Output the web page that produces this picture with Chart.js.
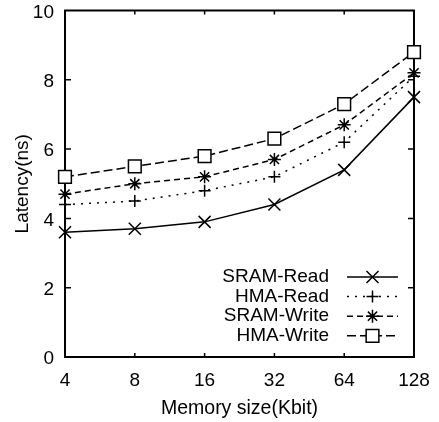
<!DOCTYPE html>
<html>
<head>
<meta charset="utf-8">
<title>Latency vs memory size</title>
<script src="https://cdn.jsdelivr.net/npm/chart.js@4.4.1/dist/chart.umd.min.js"></script>
<style>
  html, body { margin: 0; padding: 0; background: #fff; }
  #myChart { display: block; }
</style>
</head>
<body>
<canvas id="myChart" width="439" height="422"></canvas>
<script>
let sizes = ['4', '8', '16', '32', '64', '128'];
let seriesNames = ['SRAM-Read', 'HMA-Read', 'SRAM-Write', 'HMA-Write'];
let sramRead = [3.6, 3.7, 3.9, 4.4, 5.4, 7.5];
let hmaRead = [4.4, 4.5, 4.8, 5.2, 6.2, 8.1];
let sramWrite = [4.7, 5.0, 5.2, 5.7, 6.7, 8.2];
let hmaWrite = [5.2, 5.5, 5.8, 6.3, 7.3, 8.8];
let yTicks = [0, 2, 4, 6, 8, 10];

// line look per series (gnuplot style)
let dashes = [[], [2, 6], [6, 4], [9, 4]];
let markers = ['crossRot', 'cross', 'star', 'rect'];
let markerSizes = [8.5, 6, 6.5, 9];

const fontFamily = '"Liberation Sans", Arial, Helvetica, sans-serif';
const font19 = { family: fontFamily, size: 19, lineHeight: 1.2 };

// border box + inward ticks on all four sides
const framePlugin = {
  id: 'frame',
  beforeDatasetsDraw(chart) {
    const { ctx, chartArea: a, scales: { x, y } } = chart;
    ctx.save();
    ctx.strokeStyle = '#000';
    ctx.lineWidth = 2;
    ctx.strokeRect(a.left, a.top, a.right - a.left, a.bottom - a.top);
    ctx.lineWidth = 1.5;
    ctx.beginPath();
    yTicks.slice(1, -1).forEach(v => {
      const py = y.getPixelForValue(v);
      ctx.moveTo(a.left, py); ctx.lineTo(a.left + 6, py);
      ctx.moveTo(a.right, py); ctx.lineTo(a.right - 6, py);
    });
    sizes.slice(1, -1).forEach((s, i) => {
      const px = x.getPixelForValue(i + 1);
      ctx.moveTo(px, a.bottom); ctx.lineTo(px, a.bottom - 4);
      ctx.moveTo(px, a.top); ctx.lineTo(px, a.top + 4);
    });
    ctx.stroke();
    ctx.restore();
  }
};

// key in the lower right, text first then sample line
const keyPlugin = {
  id: 'key',
  afterDatasetsDraw(chart) {
    const { ctx, chartArea: a } = chart;
    const textRight = a.right - 85;
    const lineLeft = a.right - 67, lineRight = a.right - 16;
    ctx.save();
    chart.data.datasets.forEach((ds, i) => {
      const yy = a.bottom - 80 + i * 19.6;
      ctx.fillStyle = '#000';
      ctx.font = '19px ' + fontFamily;
      ctx.textAlign = 'right';
      ctx.textBaseline = 'middle';
      ctx.fillText(ds.label, textRight, yy);
      ctx.strokeStyle = '#000';
      ctx.lineWidth = 1.5;
      ctx.setLineDash(ds.borderDash);
      ctx.beginPath();
      ctx.moveTo(lineLeft, yy);
      ctx.lineTo(lineRight, yy);
      ctx.stroke();
      ctx.setLineDash([]);
      if (Chart.helpers && Chart.helpers.drawPoint) {
        ctx.fillStyle = '#fff';
        Chart.helpers.drawPoint(ctx, {
          pointStyle: ds.pointStyle, rotation: 0,
          radius: ds.pointRadius, borderWidth: 1.5
        }, (lineLeft + lineRight) / 2, yy);
      }
    });
    ctx.restore();
  }
};

let seriesValues = [sramRead, hmaRead, sramWrite, hmaWrite];

let myChart = document.getElementById('myChart').getContext('2d');

let chart = new Chart(myChart, {
  type: 'line',
  data: {
    labels: sizes,
    datasets: seriesNames.map((name, i) => ({
      label: name,
      data: seriesValues[i],
      borderColor: '#000',
      borderWidth: 1.5,
      borderDash: dashes[i],
      backgroundColor: '#fff',
      pointStyle: markers[i],
      pointRadius: markerSizes[i],
      pointBorderColor: '#000',
      pointBackgroundColor: '#fff',
      pointBorderWidth: 1.5,
      tension: 0,
      fill: false
    }))
  },
  options: {
    responsive: false,
    animation: false,
    devicePixelRatio: 1,
    layout: { padding: { top: 10, right: 25, left: 0, bottom: 0 } },
    plugins: {
      legend: { display: false },
      tooltip: { enabled: false }
    },
    scales: {
      x: {
        type: 'category',
        offset: false,
        grid: { display: false, drawTicks: false },
        border: { display: false },
        ticks: { color: '#000', font: font19, padding: 12, maxRotation: 0 },
        title: {
          display: true, text: 'Memory size(Kbit)', color: '#000',
          font: { family: fontFamily, size: 19.5, lineHeight: 1.2 },
          padding: { top: 0, bottom: 2 }
        },
        afterFit(s) { s.height = 65; s.paddingLeft = 0; s.paddingRight = 0; }
      },
      y: {
        min: 0, max: 10,
        grid: { display: false, drawTicks: false },
        border: { display: false },
        ticks: {
          color: '#000', padding: 11, labelOffset: 2,
          font: { family: fontFamily, size: 19, lineHeight: 1.0 }
        },
        afterBuildTicks(s) { s.ticks = yTicks.map(v => ({ value: v })); },
        title: {
          display: true, text: 'Latency(ns)', color: '#000',
          font: { family: fontFamily, size: 19, lineHeight: 1.2 },
          padding: { top: 11, bottom: 0 }
        },
        afterFit(s) { s.width = 65; s.paddingTop = 0; s.paddingBottom = 0; }
      }
    }
  },
  plugins: [framePlugin, keyPlugin]
});
</script>
</body>
</html>
